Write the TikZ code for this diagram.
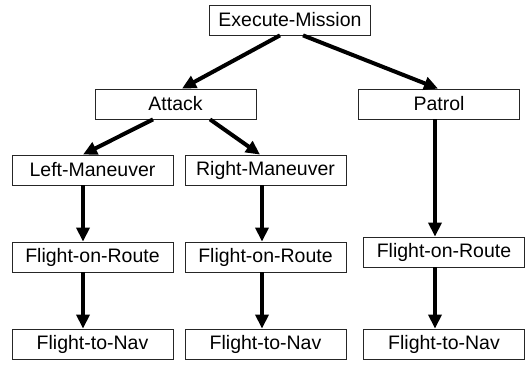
\documentclass[tikz,border=0pt]{standalone}
\usepackage{fontspec}
\setmainfont{Liberation Sans}
\usetikzlibrary{arrows.meta}
\begin{document}
\begin{tikzpicture}[x=1pt,y=1pt,
  box/.style={draw=black!85,line width=0.8pt,minimum width=161pt,minimum height=30pt,inner sep=0pt,
    font=\fontsize{19.5}{21}\selectfont,anchor=center},
  arr/.style={line width=4pt,-{Triangle[length=14pt,width=13pt]}}]
\useasboundingbox (0,0) rectangle (525,371);
\node[box] (exec) at (290,351) {Execute-Mission};
\node[box] (attack) at (175.5,267) {Attack};
\node[box] (patrol) at (439,267) {Patrol};
\node[box] (lm) at (92.5,201) {Left-Maneuver};
\node[box] (rm) at (265.5,201) {Right-Maneuver};
\node[box] (forl) at (92.5,114) {Flight-on-Route};
\node[box] (form) at (265.5,114) {Flight-on-Route};
\node[box] (forr) at (444,119) {Flight-on-Route};
\node[box] (ftnl) at (92.5,27) {Flight-to-Nav};
\node[box] (ftnm) at (265.5,27) {Flight-to-Nav};
\node[box] (ftnr) at (444,27) {Flight-to-Nav};
\draw[arr] ([xshift=-10pt]exec.south) -- ([xshift=6.5pt]attack.north);
\draw[arr] ([xshift=13pt]exec.south) -- ([xshift=-1pt]patrol.north);
\draw[arr] ([xshift=-22.5pt]attack.south) -- ([xshift=-9.5pt]lm.north);
\draw[arr] ([xshift=34.5pt]attack.south) -- ([xshift=-5.5pt]rm.north);
\draw[arr] ([xshift=-9.5pt]lm.south) -- ([xshift=-9.5pt]forl.north);
\draw[arr] ([xshift=-3.5pt]rm.south) -- ([xshift=-3.5pt]form.north);
\draw[arr] ([xshift=-4pt]patrol.south) -- ([xshift=-9pt]forr.north);
\draw[arr] ([xshift=-9.5pt]forl.south) -- ([xshift=-9.5pt]ftnl.north);
\draw[arr] ([xshift=-3.5pt]form.south) -- ([xshift=-3.5pt]ftnm.north);
\draw[arr] ([xshift=-9pt]forr.south) -- ([xshift=-9pt]ftnr.north);
\end{tikzpicture}
\end{document}
